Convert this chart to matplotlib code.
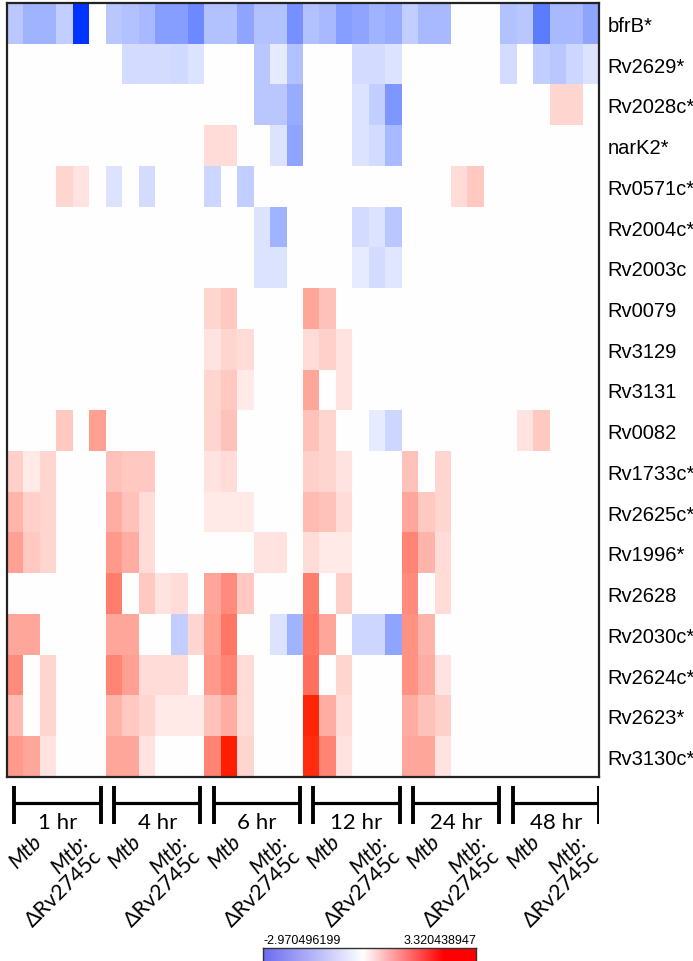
"""
Heatmap of gene expression (log2 fold change) in Mtb vs Mtb:dRv2745c over time
"""

import numpy as np
import matplotlib
matplotlib.use("Agg")
import matplotlib.pyplot as plt
from matplotlib.colors import LinearSegmentedColormap, TwoSlopeNorm

genes = ["bfrB*", "Rv2629*", "Rv2028c*", "narK2*", "Rv0571c*", "Rv2004c*",
         "Rv2003c", "Rv0079", "Rv3129", "Rv3131", "Rv0082", "Rv1733c*",
         "Rv2625c*", "Rv1996*", "Rv2628", "Rv2030c*", "Rv2624c*", "Rv2623*",
         "Rv3130c*"]
times = ["1 hr", "4 hr", "6 hr", "12 hr", "24 hr", "48 hr"]
strains = ["Mtb", "Mtb:\nΔRv2745c"]
vmin, vmax = -2.970496199, 3.320438947

# each row: 6 time points x (3 Mtb + 3 mutant replicates)
bfrB    = [-0.8, -1.1, -1.1, -0.7, -2.97, 0,  -0.8, -0.9, -1.0, -1.4, -1.4, -1.7,  -0.9, -0.9, -1.3, -0.9, -0.9, -1.6,
           -0.9, -1.0, -1.4, -1.3, -1.1, -1.2,  -0.7, -1.0, -1.0, 0, 0, 0,  -0.9, -0.8, -1.9, -1.0, -1.0, -1.3]
rv2629  = [0, 0, 0, 0, 0, 0,  0, -0.5, -0.5, -0.5, -0.55, -0.4,  0, 0, 0, -0.8, -0.3, -0.9,
           0, 0, 0, -0.5, -0.5, -0.4,  0, 0, 0, 0, 0, 0,  -0.5, 0, -0.7, -0.8, -0.6, -0.4]
rv2028c = [0, 0, 0, 0, 0, 0,  0, 0, 0, 0, 0, 0,  0, 0, 0, -0.8, -0.8, -1.2,
           0, 0, 0, -0.4, -0.7, -1.5,  0, 0, 0, 0, 0, 0,  0, 0, 0, 0.6, 0.6, 0]
narK2   = [0, 0, 0, 0, 0, 0,  0, 0, 0, 0, 0, 0,  0.5, 0.5, 0, 0, -0.4, -1.3,
           0, 0, 0, -0.4, -0.5, -1.0,  0, 0, 0, 0, 0, 0,  0, 0, 0, 0, 0, 0]
rv0571c = [0, 0, 0, 0.6, 0.4, 0,  -0.4, 0, -0.5, 0, 0, 0,  -0.6, 0, -0.7, 0, 0, 0,
           0, 0, 0, 0, 0, 0,  0, 0, 0, 0.5, 0.8, 0,  0, 0, 0, 0, 0, 0]
rv2004c = [0, 0, 0, 0, 0, 0,  0, 0, 0, 0, 0, 0,  0, 0, 0, -0.4, -1.1, 0,
           0, 0, 0, -0.5, -0.4, -0.8,  0, 0, 0, 0, 0, 0,  0, 0, 0, 0, 0, 0]
rv2003c = [0, 0, 0, 0, 0, 0,  0, 0, 0, 0, 0, 0,  0, 0, 0, -0.4, -0.4, 0,
           0, 0, 0, -0.3, -0.5, -0.35,  0, 0, 0, 0, 0, 0,  0, 0, 0, 0, 0, 0]
rv0079  = [0, 0, 0, 0, 0, 0,  0, 0, 0, 0, 0, 0,  0.6, 0.8, 0, 0, 0, 0,
           1.3, 0.9, 0, 0, 0, 0,  0, 0, 0, 0, 0, 0,  0, 0, 0, 0, 0, 0]
rv3129  = [0, 0, 0, 0, 0, 0,  0, 0, 0, 0, 0, 0,  0.4, 0.6, 0.5, 0, 0, 0,
           0.5, 0.7, 0.4, 0, 0, 0,  0, 0, 0, 0, 0, 0,  0, 0, 0, 0, 0, 0]
rv3131  = [0, 0, 0, 0, 0, 0,  0, 0, 0, 0, 0, 0,  0.6, 0.8, 0.3, 0, 0, 0,
           1.3, 0, 0.4, 0, 0, 0,  0, 0, 0, 0, 0, 0,  0, 0, 0, 0, 0, 0]
rv0082  = [0, 0, 0, 0.8, 0, 1.4,  0, 0, 0, 0, 0, 0,  0.6, 0.9, 0, 0, 0, 0,
           0.9, 0.6, 0, 0, -0.3, -0.6,  0, 0, 0, 0, 0, 0,  0, 0.4, 0.8, 0, 0, 0]
rv1733c = [0.7, 0.3, 0.6, 0, 0, 0,  0.9, 0.8, 0.8, 0, 0, 0,  0.4, 0.5, 0, 0, 0, 0,
           0.7, 0.6, 0.4, 0, 0, 0,  0.9, 0, 0.6, 0, 0, 0,  0, 0, 0, 0, 0, 0]
rv2625c = [1.1, 0.7, 0.6, 0, 0, 0,  1.2, 0.9, 0.5, 0, 0, 0,  0.3, 0.3, 0.3, 0, 0, 0,
           1.0, 0.9, 0.5, 0, 0, 0,  1.3, 0.8, 0.6, 0, 0, 0,  0, 0, 0, 0, 0, 0]
rv1996  = [1.4, 0.8, 0.6, 0, 0, 0,  1.5, 1.2, 0.5, 0, 0, 0,  0, 0, 0, 0.4, 0.4, 0,
           0.5, 0.3, 0.3, 0, 0, 0,  1.8, 1.1, 0.5, 0, 0, 0,  0, 0, 0, 0, 0, 0]
rv2628  = [0, 0, 0, 0, 0, 0,  1.9, 0, 0.8, 0.4, 0.5, 0,  1.3, 1.7, 0.8, 0, 0, 0,
           1.9, 0, 0.7, 0, 0, 0,  1.7, 0, 0.5, 0, 0, 0,  0, 0, 0, 0, 0, 0]
rv2030c = [1.3, 1.3, 0, 0, 0, 0,  1.3, 1.3, 0, 0, -0.7, 0.6,  1.4, 2.0, 0, 0, -0.4, -1.1,
           2.0, 1.3, 0, -0.6, -0.6, -1.3,  1.6, 1.1, 0, 0, 0, 0,  0, 0, 0, 0, 0, 0]
rv2624c = [1.7, 0, 0.6, 0, 0, 0,  1.8, 1.4, 0.5, 0.5, 0.5, 0,  1.5, 1.8, 0.5, 0, 0, 0,
           2.1, 0, 0.6, 0, 0, 0,  1.6, 1.2, 0.4, 0, 0, 0,  0, 0, 0, 0, 0, 0]
rv2623  = [1.0, 0, 0.6, 0, 0, 0,  1.1, 0.8, 0.6, 0.3, 0.3, 0.3,  0.9, 1.2, 0.5, 0, 0, 0,
           3.2, 1.2, 0.5, 0, 0, 0,  1.2, 0.9, 0.7, 0, 0, 0,  0, 0, 0, 0, 0, 0]
rv3130c = [1.5, 1.3, 0.4, 0, 0, 0,  1.3, 1.3, 0.4, 0, 0, 0,  1.8, 3.3, 0.6, 0, 0, 0,
           3.1, 1.8, 0.4, 0, 0, 0,  1.3, 1.3, 0.4, 0, 0, 0,  0, 0, 0, 0, 0, 0]

data = np.array([bfrB, rv2629, rv2028c, narK2, rv0571c, rv2004c, rv2003c, rv0079,
                 rv3129, rv3131, rv0082, rv1733c, rv2625c, rv1996, rv2628, rv2030c,
                 rv2624c, rv2623, rv3130c])

plt.rcParams['mathtext.fontset'] = 'custom'
plt.rcParams['mathtext.it'] = 'Lato:italic'
plt.rcParams['mathtext.rm'] = 'Lato'
lato = ['Lato', 'DejaVu Sans']

W, H = 693, 962
fig = plt.figure(figsize=(W / 100, H / 100), dpi=100)

def box(x0, y0, x1, y1):
    # pixel box (from top left) -> figure fraction
    return [x0 / W, 1 - y1 / H, (x1 - x0) / W, (y1 - y0) / H]

cmap = LinearSegmentedColormap.from_list(
    "bwr_cells", [(0, (0.0, 0.2, 1.0)), (0.5, (1, 1, 1)), (1, (1.0, 0.12, 0.0))])
norm = TwoSlopeNorm(vmin=vmin, vcenter=0, vmax=vmax)

ax = fig.add_axes(box(7, 4, 599, 778))
ax.imshow(data, cmap=cmap, norm=norm, aspect='auto', interpolation='nearest')
ax.set_xticks([])
ax.yaxis.tick_right()
ax.set_yticks(range(len(genes)), genes, fontsize=14.5, family='Liberation Sans')
ax.tick_params(axis='y', length=0, pad=6)
for s in ax.spines.values():
    s.set_linewidth(1.6)
    s.set_color('#222222')

# time brackets and strain labels
lab = fig.add_axes(box(7, 778, 599, 962))
lab.set_xlim(-0.5, 35.5)
lab.set_ylim(962, 778)
lab.axis('off')
for g, t in enumerate(times):
    x0 = 6 * g - 0.05 + 0.06 * g
    x1 = x0 + 5.25
    for xx in (x0, x1):
        lab.plot([xx, xx], [787, 825], color='k', lw=2.8, solid_capstyle='butt')
    lab.plot([x0, x1], [804, 804], color='k', lw=2.3, solid_capstyle='butt')
    lab.text((x0 + x1) / 2, 823, t, ha='center', va='center', fontsize=16, family=lato)
    lab.text(6 * g + 1.0 + 0.06 * g, 831, strains[0], style='italic', rotation=45,
             rotation_mode='anchor', ha='right', va='top', fontsize=15.5, family=lato)
    lab.text(6 * g + 3.8 + 0.06 * g, 833, r'$\mathit{Mtb}$:' + '\nΔRv2745c', rotation=45,
             rotation_mode='anchor', ha='right', va='top', multialignment='right',
             fontsize=15.5, family=lato, linespacing=0.95)

# colour key
bar_cmap = LinearSegmentedColormap.from_list(
    "bwr_key", [(0, (0.42, 0.42, 0.94)), (0.47, (1, 1, 1)), (0.85, (1, 0, 0)), (1, (1, 0, 0))])
cax = fig.add_axes(box(263, 949, 476, 963))
cax.imshow(np.linspace(vmin, vmax, 256)[None, :], cmap=bar_cmap, aspect='auto',
           extent=(vmin, vmax, 0, 1))
cax.set_xticks([])
cax.set_yticks([])
for s in cax.spines.values():
    s.set_linewidth(1.0)
    s.set_color('#333333')
fig.text(263 / W, 1 - 941 / H, "-2.970496199", ha='left', va='center', fontsize=9,
         family='Liberation Sans')
fig.text(476 / W, 1 - 941 / H, "3.320438947", ha='right', va='center', fontsize=9,
         family='Liberation Sans')

fig.savefig("out.png", dpi=100)
